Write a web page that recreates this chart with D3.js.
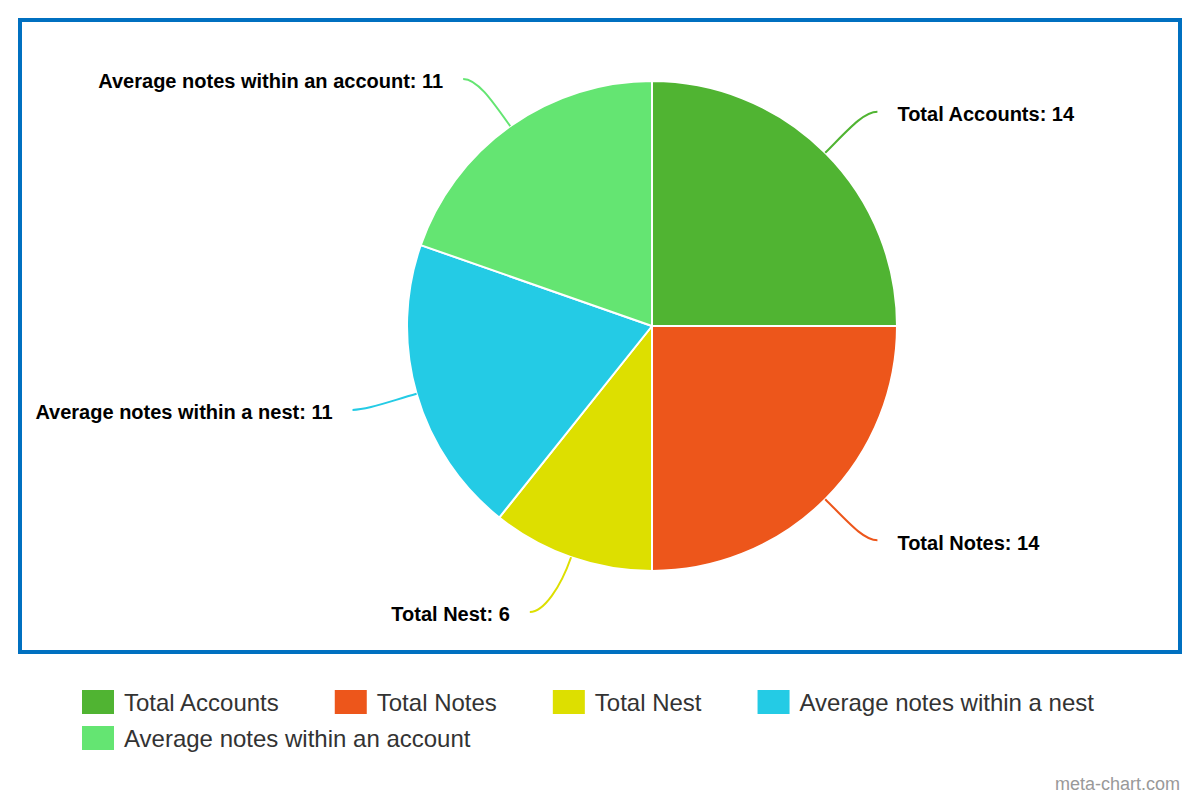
<!DOCTYPE html>
<html>
<head>
<meta charset="utf-8">
<script src="https://cdn.jsdelivr.net/npm/d3@7"></script>
<style>
  body { margin: 0; background: #fff; }
  svg { display: block; font-family: "Liberation Sans", Arial, sans-serif; }
</style>
</head>
<body>
<script>
var categories = ["Total Accounts", "Total Notes", "Total Nest", "Average notes within a nest", "Average notes within an account"];
var values = [14, 14, 6, 11, 11];
var colors = ["#50B432", "#ED561B", "#DDDF00", "#24CBE5", "#64E572"];

var width = 1200, height = 800,
    cx = 652, cy = 326,
    radius = 245,
    labelRadiusY = 303,
    labelRadiusX = 311;

var svg = d3.select("body").append("svg")
    .attr("width", width)
    .attr("height", height);

// frame
svg.append("rect")
    .attr("x", 20).attr("y", 20)
    .attr("width", 1160).attr("height", 632)
    .attr("fill", "none")
    .attr("stroke", "#0070C0")
    .attr("stroke-width", 4);

var data = categories.map((c, i) => ({ name: c, value: values[i], color: colors[i] }));

var pie = d3.pie().sort(null).value(d => d.value);
var arcs = pie(data);

var arc = d3.arc().innerRadius(0).outerRadius(radius);

var g = svg.append("g")
    .attr("transform", "translate(" + cx + "," + cy + ")");

g.selectAll(".slice")
    .data(arcs)
    .enter().append("path")
    .attr("class", "slice")
    .attr("d", arc)
    .attr("fill", d => d.data.color)
    .attr("stroke", "#fff")
    .attr("stroke-width", 2)
    .attr("stroke-linejoin", "round");

function polar(a, r) { return [r * Math.sin(a), -r * Math.cos(a)]; }

// connectors + labels
arcs.forEach(function(d) {
    var mid = (d.startAngle + d.endAngle) / 2;
    var s = polar(mid, radius);
    var right = Math.sin(mid) > 0;
    var dir = right ? 1 : -1;
    var ey = polar(mid, labelRadiusY)[1];
    var e = [dir * Math.sqrt(labelRadiusX * labelRadiusX - ey * ey), ey];
    var c1 = polar(mid, radius + (labelRadiusY - radius) * 0.55);
    var c2 = [e[0] - dir * 14, e[1]];
    g.append("path")
        .attr("d", "M" + s + "C" + c1 + " " + c2 + " " + e)
        .attr("fill", "none")
        .attr("stroke", d.data.color)
        .attr("stroke-width", 2);
    g.append("text")
        .attr("x", e[0] + dir * 20)
        .attr("y", e[1] + 9.5)
        .attr("text-anchor", right ? "start" : "end")
        .attr("font-size", 20)
        .attr("font-weight", "bold")
        .attr("fill", "#000")
        .text(d.data.name + ": " + d.data.value);
});

// legend
var legend = svg.append("g");
var lx = 82, ly = 690, maxX = 1120;
data.forEach(function(d) {
    var item = legend.append("g");
    item.append("rect")
        .attr("width", 32).attr("height", 24)
        .attr("fill", d.color);
    var t = item.append("text")
        .attr("x", 42).attr("y", 21)
        .attr("font-size", 24)
        .attr("fill", "#333")
        .text(d.name);
    var w = 42 + t.node().getComputedTextLength();
    if (lx + w > maxX && lx > 82) { lx = 82; ly += 36; }
    item.attr("transform", "translate(" + lx + "," + ly + ")");
    lx += w + 56;
});

svg.append("text")
    .attr("x", 1180).attr("y", 790)
    .attr("text-anchor", "end")
    .attr("font-size", 18)
    .attr("fill", "#999")
    .text("meta-chart.com");
</script>
</body>
</html>
